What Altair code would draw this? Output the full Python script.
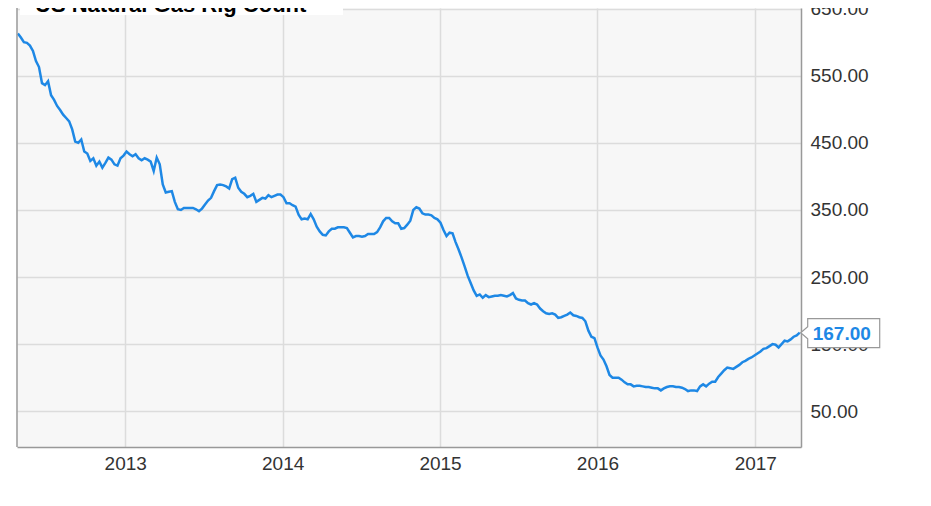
import altair as alt
import pandas as pd

# Weekly US natural gas rig count (Fridays)
start_date = "2012-04-27"
rig_count = [
    613, 607, 600, 599, 595, 587, 572, 563, 539, 536,
    542, 521, 514, 505, 499, 492, 487, 482, 470, 452,
    450, 455, 437, 434, 423, 427, 416, 422, 413, 420,
    428, 425, 418, 416, 427, 431, 437, 433, 430, 433,
    427, 424, 427, 425, 422, 408, 428, 418, 388, 376,
    377, 378, 362, 351, 350, 353, 353, 353, 353, 351,
    348, 352, 358, 364, 368, 378, 387, 388, 387, 385,
    382, 396, 398, 383, 377, 374, 369, 371, 374, 362,
    365, 368, 367, 372, 369, 371, 373, 373, 369, 360,
    360, 357, 355, 343, 336, 337, 336, 344, 336, 325,
    318, 313, 312, 318, 322, 322, 324, 324, 324, 323,
    316, 309, 311, 311, 310, 311, 314, 314, 314, 317,
    324, 333, 338, 338, 333, 330, 330, 322, 323, 328,
    334, 350, 354, 352, 345, 343, 343, 342, 338, 336,
    331, 320, 311, 316, 315, 302, 291, 279, 266, 252,
    241, 230, 222, 224, 219, 223, 220, 221, 222, 222,
    223, 222, 221, 223, 226, 218, 216, 215, 215, 211,
    209, 211, 209, 203, 199, 196, 195, 196, 194, 189,
    190, 192, 194, 197, 193, 192, 190, 189, 184, 170,
    161, 159, 145, 133, 127, 117, 104, 100, 100, 100,
    97, 93, 90, 90, 87, 88, 88, 87, 86, 86,
    85, 84, 84, 81, 84, 86, 87, 87, 86, 86,
    85, 83, 80, 81, 81, 80, 87, 90, 87, 91,
    94, 94, 101, 106, 111, 115, 114, 113, 116, 119,
    123, 125, 128, 130, 133, 136, 139, 143, 144, 147,
    150, 149, 145, 150, 155, 154, 157, 161, 163, 167,
]
year_ticks = [2013, 2014, 2015, 2016, 2017]
y_ticks = [50, 150, 250, 350, 450, 550, 650]
title_text = ["US Natural Gas Rig Count"]

BLUE = "#1e88e5"
FONT = "Liberation Sans"
GRID = "#dcdcdc"
BORDER = "#999999"

dates = pd.date_range(start_date, periods=len(rig_count), freq="7D")
df = pd.DataFrame({"date": dates.strftime("%Y-%m-%dT00:00:00"), "rigs": rig_count})
last = df.tail(1)

x_enc = alt.X(
    "date:T",
    title=None,
    scale=alt.Scale(domain=[alt.DateTime(year=2012, month=4, date=25),
                            alt.DateTime(year=2017, month=4, date=17)]),
    axis=alt.Axis(values=[alt.DateTime(year=y, month=1, date=1) for y in year_ticks],
                  format="%Y", ticks=False, labelFontSize=19, labelPadding=7,
                  labelColor="#333333", labelFont=FONT, labelFlush=False,
                  grid=True, gridColor=GRID, gridWidth=1.5,
                  domainColor=BORDER, domainWidth=1.5),
)
y_enc = alt.Y(
    "rigs:Q",
    title=None,
    scale=alt.Scale(domain=[-3.4, 651], nice=False, zero=False),
    axis=alt.Axis(orient="right", values=y_ticks, format=".2f", ticks=False,
                  labelFontSize=19, labelPadding=9, labelColor="#333333",
                  labelFont=FONT, labelFlush=False, labelOverlap=False,
                  grid=True, gridColor=GRID, gridWidth=1.5,
                  domainColor=BORDER, domainWidth=1.5),
)

line = alt.Chart(df).mark_line(color=BLUE, strokeWidth=2.5).encode(x=x_enc, y=y_enc)

callout_box = alt.Chart(last).mark_point(
    shape="M1,0L8,-6L8,-14L80,-14L80,15L8,15L8,6Z", size=4,
    fill="white", stroke=BORDER, strokeWidth=1.2, opacity=1, fillOpacity=1,
).encode(x=alt.X("date:T", title=None), y=alt.Y("rigs:Q", title=None))

callout_text = alt.Chart(last).mark_text(
    align="left", baseline="middle", dx=13, dy=1, fontSize=19,
    fontWeight="bold", color=BLUE, font=FONT,
).encode(x=alt.X("date:T", title=None), y=alt.Y("rigs:Q", title=None),
         text=alt.Text("rigs:Q", format=".2f"))

tdf = pd.DataFrame({"t": title_text})
title_box = alt.Chart(tdf).mark_rect(fill="white").encode(
    x=alt.value(3), x2=alt.value(326), y=alt.value(0), y2=alt.value(7))
title = alt.Chart(tdf).mark_text(
    clip=True, align="left", baseline="alphabetic", fontSize=22,
    fontWeight="bold", color="black", font=FONT,
).encode(x=alt.value(18), y=alt.value(4), text="t:N")

left_border = alt.Chart(tdf).mark_rule(color=BORDER, strokeWidth=1.5).encode(
    x=alt.value(0), y=alt.value(0), y2=alt.value(439))

chart = alt.layer(
    line, callout_box, callout_text, title_box, title, left_border
).properties(
    width=784, height=439,
    autosize=alt.AutoSizeParams(type="none"),
    padding={"left": 9, "top": 0, "right": 121, "bottom": 51},
    background="white",
).configure_view(fill="#f7f7f7", stroke="transparent")

chart.save("out.html", embed_options={"renderer": "svg", "actions": False})
